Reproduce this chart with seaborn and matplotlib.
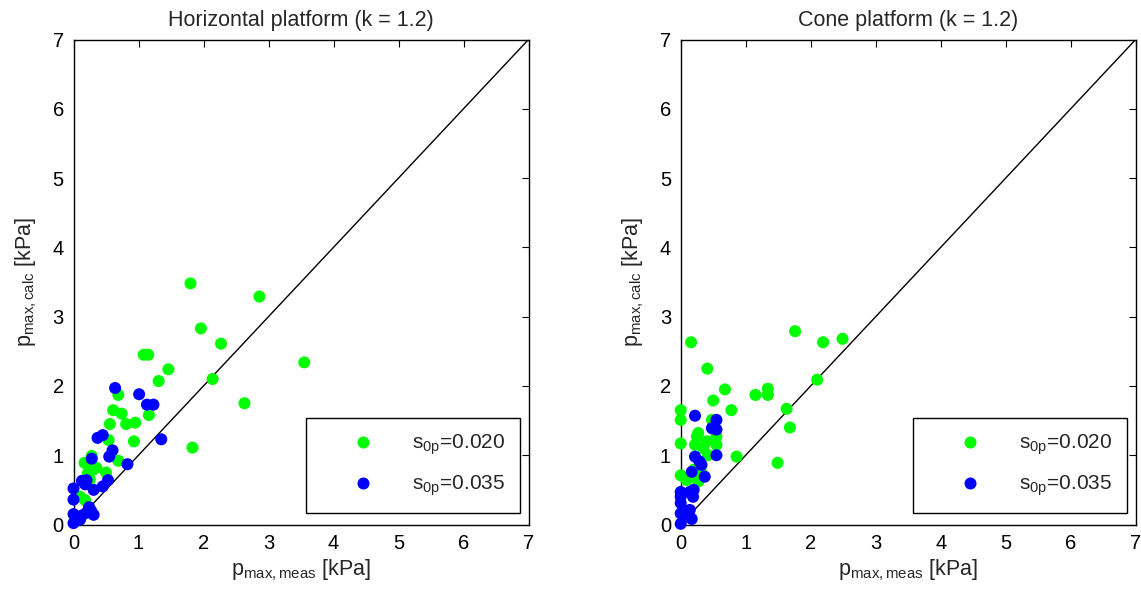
import numpy as np
import pandas as pd
import matplotlib
matplotlib.use("Agg")
import matplotlib.pyplot as plt
import seaborn as sns

# ---- data ----
titles = ["Horizontal platform (k = 1.2)", "Cone platform (k = 1.2)"]
series_labels = ["s$_\\mathregular{0p}$=0.020", "s$_\\mathregular{0p}$=0.035"]
series_colors = ["#00FF00", "#0000FF"]

# Horizontal platform, s0p = 0.020
h_g_x = [1.80, 2.86, 1.96, 2.27, 3.55, 1.08, 1.15, 1.46, 1.31, 2.14, 2.63, 0.69, 0.61, 0.74,
         1.16, 0.56, 0.81, 0.95, 0.54, 0.93, 1.83, 0.28, 0.69, 0.17, 0.30, 0.22, 0.50, 0.18,
         0.25, 0.10, 0.35, 0.27]
h_g_y = [3.48, 3.29, 2.83, 2.61, 2.34, 2.45, 2.45, 2.24, 2.07, 2.10, 1.75, 1.87, 1.65, 1.60,
         1.58, 1.45, 1.45, 1.47, 1.22, 1.20, 1.11, 0.99, 0.92, 0.89, 0.79, 0.74, 0.75, 0.35,
         0.65, 0.40, 0.82, 0.88]
# Horizontal platform, s0p = 0.035
h_b_x = [0.64, 1.01, 1.13, 1.23, 1.35, 0.37, 0.45, 0.60, 0.55, 0.28, 0.83, 0.53, 0.45, 0.31,
         0.13, 0.20, 0.00, 0.00, 0.24, 0.20, 0.31, 0.13, 0.00, 0.00, 0.10, 0.18, 0.05, 0.27]
h_b_y = [1.97, 1.88, 1.73, 1.73, 1.23, 1.25, 1.29, 1.07, 0.98, 0.95, 0.87, 0.64, 0.55, 0.50,
         0.63, 0.64, 0.52, 0.36, 0.25, 0.17, 0.14, 0.13, 0.15, 0.02, 0.07, 0.58, 0.10, 0.20]

# Cone platform, s0p = 0.020
c_g_x = [1.76, 0.16, 2.19, 2.49, 0.41, 2.10, 0.68, 1.15, 1.34, 1.34, 0.50, 0.78, 1.63, 1.68,
         0.00, 0.00, 0.00, 0.48, 0.27, 0.25, 0.40, 0.22, 0.55, 0.55, 0.86, 1.49, 0.42, 0.00,
         0.20, 0.32, 0.09, 0.27, 0.35, 0.15]
c_g_y = [2.79, 2.63, 2.63, 2.68, 2.25, 2.09, 1.95, 1.87, 1.96, 1.87, 1.79, 1.65, 1.67, 1.40,
         1.65, 1.51, 1.17, 1.51, 1.32, 1.27, 1.20, 1.15, 1.27, 1.15, 0.98, 0.89, 1.00, 0.71,
         0.79, 0.74, 0.64, 0.62, 1.10, 0.70]
# Cone platform, s0p = 0.035
c_b_x = [0.22, 0.55, 0.48, 0.55, 0.55, 0.22, 0.29, 0.32, 0.37, 0.17, 0.00, 0.14, 0.19, 0.00,
         0.00, 0.00, 0.14, 0.17, 0.06, 0.00, 0.20]
c_b_y = [1.57, 1.51, 1.39, 1.37, 1.00, 0.98, 0.91, 0.86, 0.69, 0.76, 0.47, 0.47, 0.40, 0.31,
         0.16, 0.01, 0.21, 0.08, 0.11, 0.40, 0.50]

ticks = [0, 1, 2, 3, 4, 5, 6, 7]
lims = [0, 7]

frames = []
for p, (gx, gy, bx, by) in enumerate([(h_g_x, h_g_y, h_b_x, h_b_y),
                                      (c_g_x, c_g_y, c_b_x, c_b_y)]):
    frames.append(pd.DataFrame({"panel": p, "series": series_labels[0], "x": gx, "y": gy}))
    frames.append(pd.DataFrame({"panel": p, "series": series_labels[1], "x": bx, "y": by}))
df = pd.concat(frames, ignore_index=True)

# ---- style ----
sns.set_style("white")
plt.rcParams["font.family"] = ["Liberation Sans", "DejaVu Sans"]
plt.rcParams["mathtext.fontset"] = "custom"
plt.rcParams["mathtext.rm"] = "Liberation Sans"
plt.rcParams["mathtext.it"] = "Liberation Sans:italic"

fig = plt.figure(figsize=(11.41, 5.94), dpi=100)
W, H = 1141, 594
ax_lefts = [73.5, 680.7]
axes = []
for p in range(2):
    ax = fig.add_axes([ax_lefts[p] / W, (H - 524.5) / H, 455 / W, 485 / H])
    axes.append(ax)
    ax.plot(lims, lims, color="black", lw=1.0, zorder=1)
    sub = df[df["panel"] == p]
    sns.scatterplot(data=sub, x="x", y="y", hue="series",
                    hue_order=series_labels, palette=series_colors,
                    s=75, linewidth=0, edgecolor="none", ax=ax, zorder=3,
                    clip_on=False)
    ax.set_xlim(lims)
    ax.set_ylim(lims)
    ax.set_xticks(ticks)
    ax.set_yticks(ticks)
    ax.tick_params(direction="in", length=5, width=0.8, top=True, right=True,
                   labelsize=14.5, pad=7, colors="black")
    for sp in ax.spines.values():
        sp.set_color("black")
        sp.set_linewidth(1.0)
    ax.set_title(titles[p], fontsize=15.5, pad=10)
    ax.set_xlabel("p$_\\mathregular{max,meas}$ [kPa]", fontsize=15.5, labelpad=3)
    ax.set_ylabel("p$_\\mathregular{max,calc}$ [kPa]", fontsize=15.5, labelpad=10)
    leg = ax.legend(loc="lower right", bbox_to_anchor=(0.981, 0.024), borderaxespad=0,
                    fontsize=15, frameon=True, fancybox=False, framealpha=1,
                    edgecolor="black", borderpad=0.7, handlelength=4.1,
                    handletextpad=0.3, labelspacing=0.8, markerscale=1.0)
    leg.get_frame().set_linewidth(1.0)

fig.savefig("out.png", dpi=100)
